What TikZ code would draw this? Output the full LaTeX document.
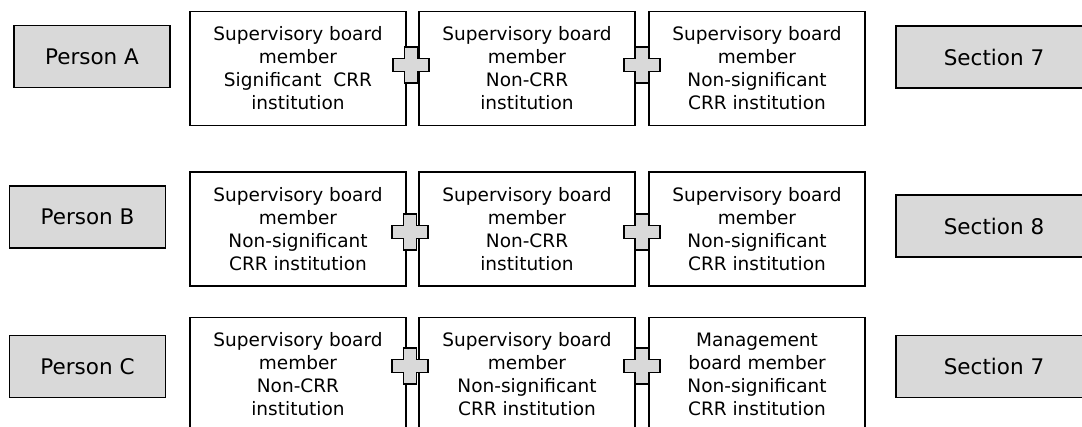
\documentclass[tikz,border=0pt]{standalone}
\usepackage{fontspec}
\setmainfont{DejaVu Sans}
\definecolor{boxgray}{HTML}{D9D9D9}
\begin{document}
\begin{tikzpicture}[x=1pt,y=-1pt,
  txt/.style={font=\fontsize{18.5}{23}\selectfont},
  graybox/.style={font=\fontsize{21.5}{26}\selectfont, draw=black, line width=1.8pt,
    fill=boxgray, inner sep=0pt, minimum height=62pt, align=center},
  personbox/.style={graybox, minimum width=156pt},
  sectionbox/.style={graybox, minimum width=196pt},
  rolebox/.style={txt, draw=black, line width=1.8pt, fill=white, inner sep=0pt,
    minimum width=216pt, minimum height=114pt, align=center},
  plussign/.pic={
    \filldraw[fill=boxgray, draw=black, line width=1.8pt]
      (-6.5,-18) -- (6.5,-18) -- (6.5,-6.5) -- (18,-6.5) -- (18,6.5) -- (6.5,6.5)
      -- (6.5,18) -- (-6.5,18) -- (-6.5,6.5) -- (-18,6.5) -- (-18,-6.5) -- (-6.5,-6.5) -- cycle;
  }]
\useasboundingbox (0,0) rectangle (1082,427);
\clip (0,0) rectangle (1082,427);

% Row A
\node[personbox] (pa) at (92,56.5) {Person A};
\node[rolebox] (a1) at (298,68.5) {Supervisory board\\member\\Significant\ \ CRR\\institution};
\node[rolebox] (a2) at (527,68.5) {Supervisory board\\member\\Non-CRR\\institution};
\node[rolebox] (a3) at (757,68.5) {Supervisory board\\member\\Non-significant\\CRR institution};
\node[sectionbox] (sa) at (994,57) {Section 7};
\pic at (411,65) {plussign};
\pic at (642,65) {plussign};

% Row B
\node[personbox] (pb) at (87.5,217) {Person B};
\node[rolebox] (b1) at (298,229) {Supervisory board\\member\\Non-significant\\CRR institution};
\node[rolebox] (b2) at (527,229) {Supervisory board\\member\\Non-CRR\\institution};
\node[rolebox] (b3) at (757,229) {Supervisory board\\member\\Non-significant\\CRR institution};
\node[sectionbox] (sb) at (994,226) {Section 8};
\pic at (410,232) {plussign};
\pic at (642,232) {plussign};

% Row C
\node[personbox] (pc) at (87.5,366.5) {Person C};
\node[rolebox] (c1) at (298,374.5) {Supervisory board\\member\\Non-CRR\\institution};
\node[rolebox] (c2) at (527,374.5) {Supervisory board\\member\\Non-significant\\CRR institution};
\node[rolebox] (c3) at (757,374.5) {Management\\board member\\Non-significant\\CRR institution};
\node[sectionbox] (sc) at (994,366.5) {Section 7};
\pic at (410,366) {plussign};
\pic at (642,366) {plussign};
\end{tikzpicture}
\end{document}
